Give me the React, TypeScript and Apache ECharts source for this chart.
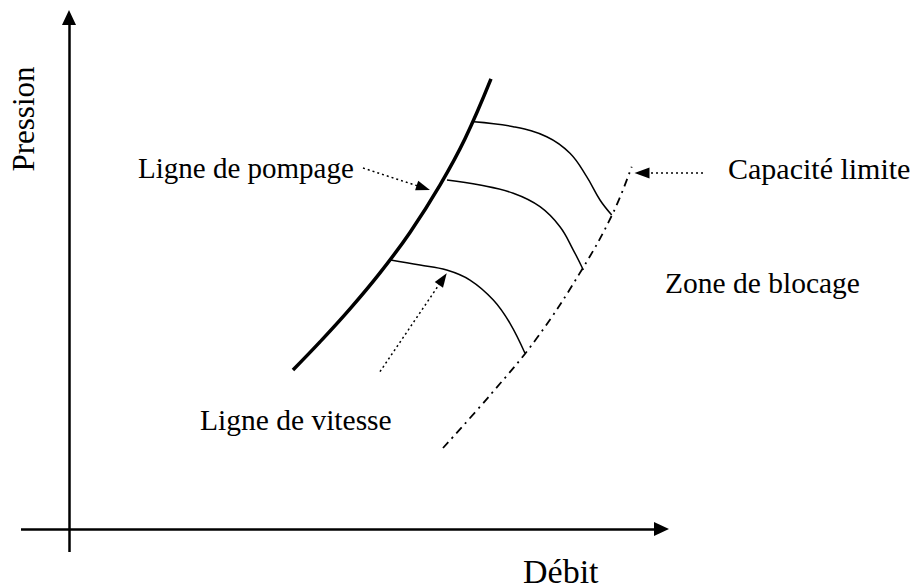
import React, { useEffect, useRef } from "react";
import * as echarts from "echarts";

// Data units: Débit (x) and Pression (y), arbitrary schematic scale
const surgeLine: [number, number][] = [
  [37.33, 30.58], [41.83, 35.98], [46.83, 42.33], [51.83, 49.25],
  [56.83, 57.04], [61.83, 66.15], [66.0, 75.05], [70.33, 86.55],
];
const speedLineHigh: [number, number][] = [
  [67.5, 78.33], [74.05, 77.37], [79.62, 75.44], [83.5, 72.25],
  [86.28, 67.75], [88.5, 63.27], [90.45, 60.38],
];
const speedLineMid: [number, number][] = [
  [63.0, 67.12], [68.5, 66.15], [74.05, 64.56], [78.5, 61.98],
  [81.83, 58.13], [84.05, 53.65], [85.72, 49.81],
];
const speedLineLow: [number, number][] = [
  [53.6, 51.73], [58.5, 50.77], [62.95, 49.81], [66.83, 47.88],
  [70.72, 44.04], [73.5, 39.56], [76.0, 33.79],
];
const chokeLine: [number, number][] = [
  [62.33, 15.58], [70.45, 26.1], [77.95, 36.67], [85.45, 49.81],
  [90.67, 60.77], [93.78, 69.67],
];
// axes (start, arrow end)
const xAxisLine: [number, number][] = [[-8, 0], [98.75, 0]];
const yAxisLine: [number, number][] = [[0, -4.42], [0, 98.37]];
// annotation arrows (start, arrow end)
const surgeArrow: [number, number][] = [[49.0, 69.42], [59.05, 65.62]];
const speedArrow: [number, number][] = [[51.83, 30.25], [62.3, 48.06]];
const chokeArrow: [number, number][] = [[105.67, 68.46], [95.5, 68.46]];

const labels = {
  surge: "Ligne de pompage",
  choke: "Capacité limite",
  zone: "Zone de blocage",
  speed: "Ligne de vitesse",
  x: "Débit",
  y: "Pression",
};

const FONT = '"Liberation Serif", "Times New Roman", serif';

function arrowPair(pts: [number, number][], size: [number, number]) {
  return [
    { coord: pts[0], symbol: "none" },
    { coord: pts[1], symbol: "triangle", symbolSize: size },
  ];
}

export default function App() {
  const ref = useRef<HTMLDivElement>(null);
  useEffect(() => {
    document.body.style.margin = "0";
    const chart = echarts.init(ref.current!, null, { renderer: "svg" });
    const curve = (data: [number, number][], width: number, type: any = "solid") => ({
      type: "line",
      data,
      smooth: 0.4,
      symbol: "none",
      silent: true,
      clip: false,
      lineStyle: { color: "#000", width, type },
    });
    chart.setOption({
      animation: false,
      backgroundColor: "#fff",
      grid: { left: 9, right: 10, top: 9, bottom: 7 },
      xAxis: { type: "value", min: -10, max: 140, show: false },
      yAxis: { type: "value", min: -10, max: 100, show: false },
      series: [
        curve(surgeLine, 3.5),
        curve(speedLineHigh, 1.5),
        curve(speedLineMid, 1.5),
        curve(speedLineLow, 1.5),
        curve(chokeLine, 1.8, [8, 5, 2, 5]),
        {
          type: "line",
          data: [],
          silent: true,
          clip: false,
          markLine: {
            silent: true,
            animation: false,
            label: { show: false },
            lineStyle: { color: "#000", width: 2.5, type: "solid" },
            emphasis: { disabled: true },
            data: [
              arrowPair(xAxisLine, [14, 15]),
              arrowPair(yAxisLine, [14, 15]),
            ],
          },
        },
        {
          type: "line",
          data: [],
          silent: true,
          clip: false,
          markLine: {
            silent: true,
            animation: false,
            label: { show: false },
            lineStyle: { color: "#000", width: 1.5, type: [2, 3] },
            emphasis: { disabled: true },
            data: [
              arrowPair(surgeArrow, [10, 14]),
              arrowPair(speedArrow, [10, 14]),
              arrowPair(chokeArrow, [11, 15]),
            ],
          },
        },
      ],
      graphic: [
        { type: "text", x: 138, y: 168, silent: true,
          style: { text: labels.surge, fontSize: 29, fontFamily: FONT, fill: "#000", align: "left", verticalAlign: "middle" } },
        { type: "text", x: 728, y: 168, silent: true,
          style: { text: labels.choke, fontSize: 30, fontFamily: FONT, fill: "#000", align: "left", verticalAlign: "middle" } },
        { type: "text", x: 665, y: 283, silent: true,
          style: { text: labels.zone, fontSize: 29.5, fontFamily: FONT, fill: "#000", align: "left", verticalAlign: "middle" } },
        { type: "text", x: 200, y: 420, silent: true,
          style: { text: labels.speed, fontSize: 29.5, fontFamily: FONT, fill: "#000", align: "left", verticalAlign: "middle" } },
        { type: "text", x: 523, y: 571, silent: true,
          style: { text: labels.x, fontSize: 34, fontFamily: FONT, fill: "#000", align: "left", verticalAlign: "middle" } },
        { type: "text", x: 23, y: 119, rotation: Math.PI / 2, silent: true,
          style: { text: labels.y, fontSize: 31, fontFamily: FONT, fill: "#000", align: "center", verticalAlign: "middle" } },
      ],
    });
    return () => chart.dispose();
  }, []);
  return <div ref={ref} style={{ width: 919, height: 588 }} />;
}
